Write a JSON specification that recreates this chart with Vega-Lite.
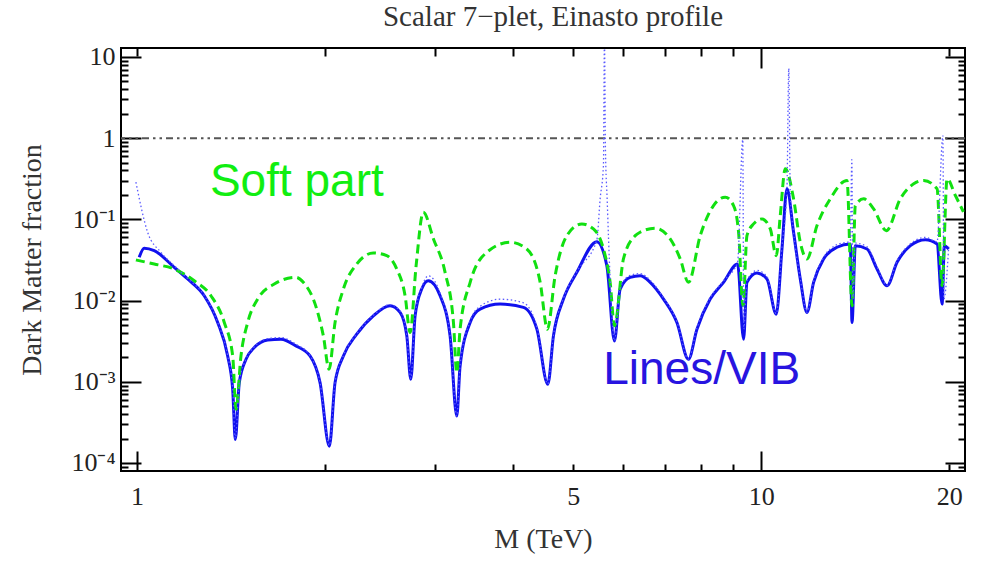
{
  "$schema": "https://vega.github.io/schema/vega-lite/v6.json",
  "width": 844,
  "height": 423,
  "autosize": {"type": "none"},
  "padding": {"left": 121, "top": 48, "right": 17, "bottom": 90},
  "background": "white",
  "config": {
    "view": {"stroke": "black", "strokeWidth": 2},
    "axis": {
      "domain": false,
      "grid": false,
      "tickColor": "black",
      "tickWidth": 2,
      "labelFont": "Liberation Serif",
      "labelFontSize": 26,
      "labelColor": "#222222",
      "labelFlush": false,
      "labelOverlap": false,
      "titleFont": "Liberation Serif",
      "titleFontSize": 28,
      "titleFontWeight": "normal",
      "titleColor": "#333333"
    }
  },
  "title": {
    "text": "Scalar 7−plet, Einasto profile",
    "font": "Liberation Serif",
    "fontSize": 29,
    "fontWeight": "normal",
    "color": "#333333",
    "anchor": "middle",
    "frame": "group",
    "offset": 20,
    "baseline": "alphabetic",
    "dx": 10,
    "dy": 31
  },
  "datasets": {
    "soft": [
      {"M": 0.9963, "f": 0.03162}, {"M": 1.0659, "f": 0.02822}, {"M": 1.1475, "f": 0.02448}, {"M": 1.2355, "f": 0.01755},
      {"M": 1.314, "f": 0.01146}, {"M": 1.3802, "f": 0.00538}, {"M": 1.4237, "f": 0.00208}, {"M": 1.4411, "f": 0.000458},
      {"M": 1.4678, "f": 0.00208}, {"M": 1.5047, "f": 0.00538}, {"M": 1.561, "f": 0.01044}, {"M": 1.6596, "f": 0.01598},
      {"M": 1.7976, "f": 0.01934}, {"M": 1.8472, "f": 0.01678}, {"M": 1.941, "f": 0.007855}, {"M": 1.9889, "f": 0.003675},
      {"M": 2.0311, "f": 0.001427}, {"M": 2.0766, "f": 0.00538}, {"M": 2.1413, "f": 0.01387}, {"M": 2.2495, "f": 0.02822},
      {"M": 2.3917, "f": 0.03857}, {"M": 2.5128, "f": 0.03572}, {"M": 2.6077, "f": 0.02448}, {"M": 2.6888, "f": 0.01146},
      {"M": 2.7388, "f": 0.004049}, {"M": 2.8002, "f": 0.02689}, {"M": 2.8754, "f": 0.1227}, {"M": 2.9851, "f": 0.05745},
      {"M": 3.1159, "f": 0.02229}, {"M": 3.2134, "f": 0.00538}, {"M": 3.2535, "f": 0.001299}, {"M": 3.2933, "f": 0.004448},
      {"M": 3.4178, "f": 0.01678}, {"M": 3.6341, "f": 0.03936}, {"M": 3.9606, "f": 0.0523}, {"M": 4.2114, "f": 0.04322},
      {"M": 4.4248, "f": 0.01678}, {"M": 4.5447, "f": 0.004448}, {"M": 4.6758, "f": 0.02024}, {"M": 4.8835, "f": 0.0631},
      {"M": 5.1601, "f": 0.088}, {"M": 5.3853, "f": 0.0763}, {"M": 5.5877, "f": 0.04322}, {"M": 5.7275, "f": 0.01678},
      {"M": 5.819, "f": 0.004886}, {"M": 6.0156, "f": 0.03253}, {"M": 6.2832, "f": 0.0631}, {"M": 6.3985, "f": 0.0695},
      {"M": 6.7626, "f": 0.0779}, {"M": 7.1475, "f": 0.05745}, {"M": 7.4176, "f": 0.03253}, {"M": 7.645, "f": 0.01678},
      {"M": 7.9853, "f": 0.0631}, {"M": 8.3853, "f": 0.148}, {"M": 8.7557, "f": 0.188}, {"M": 9.0283, "f": 0.148},
      {"M": 9.197, "f": 0.0695}, {"M": 9.3477, "f": 0.00863}, {"M": 9.4867, "f": 0.0631}, {"M": 9.7199, "f": 0.088},
      {"M": 10.026, "f": 0.1014}, {"M": 10.338, "f": 0.0763}, {"M": 10.569, "f": 0.03572}, {"M": 10.726, "f": 0.1114},
      {"M": 10.926, "f": 0.4204}, {"M": 11.266, "f": 0.1791}, {"M": 11.548, "f": 0.0523}, {"M": 11.837, "f": 0.03253},
      {"M": 12.282, "f": 0.0839}, {"M": 12.899, "f": 0.1791}, {"M": 13.72, "f": 0.3013}, {"M": 13.976, "f": 0.00863},
      {"M": 14.147, "f": 0.148}, {"M": 14.587, "f": 0.1791}, {"M": 15.135, "f": 0.1348}, {"M": 15.862, "f": 0.0727},
      {"M": 16.703, "f": 0.1791}, {"M": 17.545, "f": 0.2744}, {"M": 18.204, "f": 0.3013}, {"M": 19.126, "f": 0.2378},
      {"M": 19.482, "f": 0.01523}, {"M": 19.845, "f": 0.3162}, {"M": 20.463, "f": 0.1967}, {"M": 21.077, "f": 0.1238}
    ],
    "lines": [
      {"M": 1.0085, "f": 0.03414}, {"M": 1.0273, "f": 0.0441}, {"M": 1.0659, "f": 0.0412}, {"M": 1.1475, "f": 0.0257},
      {"M": 1.2058, "f": 0.01843}, {"M": 1.2818, "f": 0.01146}, {"M": 1.347, "f": 0.00538}, {"M": 1.3976, "f": 0.00208},
      {"M": 1.4237, "f": 0.000808}, {"M": 1.4374, "f": 0.000195}, {"M": 1.4588, "f": 0.000977}, {"M": 1.4953, "f": 0.001896},
      {"M": 1.5416, "f": 0.002644}, {"M": 1.62, "f": 0.003281}, {"M": 1.7012, "f": 0.003347}, {"M": 1.7976, "f": 0.002767},
      {"M": 1.8935, "f": 0.00208}, {"M": 1.9648, "f": 0.000977}, {"M": 2.0334, "f": 0.0001612}, {"M": 2.0766, "f": 0.000977},
      {"M": 2.1413, "f": 0.00208}, {"M": 2.2495, "f": 0.003857}, {"M": 2.3917, "f": 0.00649}, {"M": 2.5437, "f": 0.00863},
      {"M": 2.6396, "f": 0.00715}, {"M": 2.7057, "f": 0.003675}, {"M": 2.7458, "f": 0.001074}, {"M": 2.7898, "f": 0.00649},
      {"M": 2.8586, "f": 0.01387}, {"M": 2.9291, "f": 0.01755}, {"M": 3.0593, "f": 0.01146}, {"M": 3.174, "f": 0.003675},
      {"M": 3.2535, "f": 0.0003782}, {"M": 3.2933, "f": 0.001567}, {"M": 3.4178, "f": 0.00538}, {"M": 3.5453, "f": 0.007855},
      {"M": 3.8172, "f": 0.00905}, {"M": 4.159, "f": 0.00824}, {"M": 4.3712, "f": 0.004448}, {"M": 4.5514, "f": 0.000931},
      {"M": 4.6466, "f": 0.003675}, {"M": 4.8212, "f": 0.010435}, {"M": 5.0658, "f": 0.02229}, {"M": 5.4534, "f": 0.0532},
      {"M": 5.6582, "f": 0.02689}, {"M": 5.819, "f": 0.003189}, {"M": 5.9428, "f": 0.01387}, {"M": 6.166, "f": 0.01934},
      {"M": 6.3985, "f": 0.02024}, {"M": 6.6391, "f": 0.01678}, {"M": 6.9737, "f": 0.010435}, {"M": 7.3265, "f": 0.00538},
      {"M": 7.645, "f": 0.001896}, {"M": 7.8884, "f": 0.004448}, {"M": 8.2838, "f": 0.010435}, {"M": 8.7008, "f": 0.01678},
      {"M": 9.1632, "f": 0.02822}, {"M": 9.3684, "f": 0.003347}, {"M": 9.4867, "f": 0.01678}, {"M": 9.8426, "f": 0.02185},
      {"M": 10.212, "f": 0.01843}, {"M": 10.569, "f": 0.00681}, {"M": 10.794, "f": 0.04322}, {"M": 10.995, "f": 0.2378},
      {"M": 11.266, "f": 0.0695}, {"M": 11.548, "f": 0.01843}, {"M": 11.837, "f": 0.00715}, {"M": 12.129, "f": 0.01678},
      {"M": 12.585, "f": 0.03253}, {"M": 13.223, "f": 0.04538}, {"M": 13.888, "f": 0.04982}, {"M": 13.976, "f": 0.00538},
      {"M": 14.147, "f": 0.04747}, {"M": 14.771, "f": 0.04322}, {"M": 15.326, "f": 0.02448}, {"M": 15.903, "f": 0.01523},
      {"M": 16.501, "f": 0.02962}, {"M": 17.333, "f": 0.04747}, {"M": 18.319, "f": 0.0563}, {"M": 19.126, "f": 0.04982},
      {"M": 19.482, "f": 0.00905}, {"M": 19.648, "f": 0.04747}, {"M": 19.962, "f": 0.04322}
    ],
    "total": [
      {"M": 0.9963, "f": 0.2879}, {"M": 1.0403, "f": 0.0695}, {"M": 1.0926, "f": 0.03936}, {"M": 1.1548, "f": 0.0257},
      {"M": 1.2058, "f": 0.0187}, {"M": 1.2818, "f": 0.0116}, {"M": 1.347, "f": 0.0054}, {"M": 1.3976, "f": 0.0021},
      {"M": 1.4237, "f": 0.00082}, {"M": 1.4374, "f": 0.0002}, {"M": 1.4588, "f": 0.00098}, {"M": 1.4953, "f": 0.0019},
      {"M": 1.5416, "f": 0.0027}, {"M": 1.62, "f": 0.0034}, {"M": 1.7012, "f": 0.0035}, {"M": 1.7976, "f": 0.0029},
      {"M": 1.8935, "f": 0.0021}, {"M": 1.9648, "f": 0.00098}, {"M": 2.0334, "f": 0.000165}, {"M": 2.0766, "f": 0.00098},
      {"M": 2.1413, "f": 0.0021}, {"M": 2.2495, "f": 0.0039}, {"M": 2.3917, "f": 0.0066}, {"M": 2.5437, "f": 0.0089},
      {"M": 2.6396, "f": 0.0074}, {"M": 2.7057, "f": 0.0037}, {"M": 2.7458, "f": 0.0011}, {"M": 2.7898, "f": 0.0066},
      {"M": 2.8586, "f": 0.0145}, {"M": 2.9291, "f": 0.0202}, {"M": 3.0593, "f": 0.0122}, {"M": 3.174, "f": 0.0037},
      {"M": 3.2535, "f": 0.00038}, {"M": 3.2933, "f": 0.0016}, {"M": 3.4178, "f": 0.0056}, {"M": 3.5453, "f": 0.0085},
      {"M": 3.8172, "f": 0.0104}, {"M": 4.159, "f": 0.0094}, {"M": 4.3712, "f": 0.0047}, {"M": 4.5514, "f": 0.00094},
      {"M": 4.6466, "f": 0.0037}, {"M": 4.8212, "f": 0.0106}, {"M": 5.0658, "f": 0.0228}, {"M": 5.4534, "f": 0.056},
      {"M": 5.5201, "f": 0.1791}, {"M": 5.5877, "f": 0.4615}, {"M": 5.6083, "f": 16.9}, {"M": 5.629, "f": 0.742},
      {"M": 5.6646, "f": 0.1791}, {"M": 5.7275, "f": 0.01843}, {"M": 5.819, "f": 0.0032}, {"M": 5.9428, "f": 0.0142},
      {"M": 6.166, "f": 0.0205}, {"M": 6.3985, "f": 0.0215}, {"M": 6.6391, "f": 0.0178}, {"M": 6.9737, "f": 0.0108},
      {"M": 7.3265, "f": 0.0055}, {"M": 7.645, "f": 0.0019}, {"M": 7.8884, "f": 0.0046}, {"M": 8.2838, "f": 0.0108},
      {"M": 8.7008, "f": 0.0175}, {"M": 9.1632, "f": 0.0295}, {"M": 9.341, "f": 0.958}, {"M": 9.375, "f": 0.004448},
      {"M": 9.4867, "f": 0.0175}, {"M": 9.8426, "f": 0.0235}, {"M": 10.212, "f": 0.0197}, {"M": 10.569, "f": 0.0069},
      {"M": 10.794, "f": 0.046}, {"M": 10.995, "f": 0.25}, {"M": 11.068, "f": 7.21}, {"M": 11.129, "f": 0.2064},
      {"M": 11.266, "f": 0.0695}, {"M": 11.548, "f": 0.0188}, {"M": 11.837, "f": 0.0072}, {"M": 12.129, "f": 0.0172},
      {"M": 12.585, "f": 0.034}, {"M": 13.223, "f": 0.049}, {"M": 13.888, "f": 0.054}, {"M": 13.966, "f": 0.5428},
      {"M": 14.018, "f": 0.010435}, {"M": 14.147, "f": 0.051}, {"M": 14.771, "f": 0.046}, {"M": 15.326, "f": 0.026},
      {"M": 15.903, "f": 0.0155}, {"M": 16.501, "f": 0.031}, {"M": 17.333, "f": 0.05}, {"M": 18.319, "f": 0.06},
      {"M": 19.126, "f": 0.053}, {"M": 19.54, "f": 1.074}, {"M": 19.612, "f": 0.010435}, {"M": 19.962, "f": 0.046}
    ],
    "labels": [
      {"label": "Soft part", "M": 1.309, "f": 0.195},
      {"label": "Lines/VIB", "M": 5.583, "f": 0.000931}
    ],
    "unity": [{"f": 1}]
  },
  "layer": [
    {
      "data": {"name": "unity"},
      "mark": {"type": "rule", "color": "#555555", "strokeWidth": 2, "strokeDash": [7, 4, 2.5, 4, 2.5, 4]},
      "encoding": {
        "y": {
          "field": "f", "type": "quantitative",
          "scale": {"type": "log", "domain": [0.0000797, 12.9], "nice": false},
          "axis": {
            "orient": "left", "values": [0.0001, 0.001, 0.01, 0.1, 1, 10],
            "tickSize": 20, "offset": -20, "labelPadding": 6,
            "labelExpr": "datum.value > 5 ? '10' : datum.value > 0.5 ? '1' : datum.value > 0.05 ? '10⁻¹' : datum.value > 0.005 ? '10⁻²' : datum.value > 0.0005 ? '10⁻³' : '10⁻⁴'",
            "title": "Dark Matter fraction", "titlePadding": 24
          }
        }
      }
    },
    {
      "data": {"name": "lines"},
      "mark": {"type": "line", "color": "#1010ee", "strokeWidth": 3, "clip": true, "interpolate": "monotone"},
      "encoding": {
        "x": {
          "field": "M", "type": "quantitative",
          "scale": {"type": "log", "domain": [0.943, 21.2], "nice": false},
          "axis": {
            "orient": "bottom", "values": [1, 10], "tickSize": 20, "offset": -20, "labelPadding": 12,
            "labelExpr": "datum.value < 5 ? '1' : '10'",
            "title": "M (TeV)", "titlePadding": 16
          }
        },
        "y": {
          "field": "f", "type": "quantitative",
          "scale": {"type": "log", "domain": [0.0000797, 12.9], "nice": false},
          "axis": {
            "orient": "left",
            "values": [0.00009, 0.0002, 0.0003, 0.0004, 0.0005, 0.0006, 0.0007, 0.0008, 0.0009, 0.002, 0.003, 0.004, 0.005, 0.006, 0.007, 0.008, 0.009, 0.02, 0.03, 0.04, 0.05, 0.06, 0.07, 0.08, 0.09, 0.2, 0.3, 0.4, 0.5, 0.6, 0.7, 0.8, 0.9, 2, 3, 4, 5, 6, 7, 8, 9],
            "tickSize": 7, "offset": -7, "labels": false, "title": null
          }
        }
      }
    },
    {
      "data": {"name": "soft"},
      "mark": {"type": "line", "color": "#11e011", "strokeWidth": 3, "strokeDash": [9, 5], "clip": true, "interpolate": "monotone"},
      "encoding": {
        "x": {
          "field": "M", "type": "quantitative",
          "scale": {"type": "log", "domain": [0.943, 21.2], "nice": false},
          "axis": {
            "orient": "bottom", "values": [2, 3, 4, 5, 6, 7, 8, 9, 20], "tickSize": 7, "offset": -7, "labelPadding": 12,
            "labelExpr": "datum.value == 5 ? '5' : datum.value == 20 ? '20' : ''",
            "title": null
          }
        },
        "y": {
          "field": "f", "type": "quantitative",
          "scale": {"type": "log", "domain": [0.0000797, 12.9], "nice": false},
          "axis": {
            "orient": "right", "values": [0.0001, 0.001, 0.01, 0.1, 1, 10],
            "tickSize": 20, "offset": -20, "labels": false, "title": null
          }
        }
      }
    },
    {
      "data": {"name": "total"},
      "mark": {"type": "line", "color": "#5a5aff", "strokeWidth": 1.3, "strokeDash": [1.5, 2.5], "clip": true, "interpolate": "monotone"},
      "encoding": {
        "x": {
          "field": "M", "type": "quantitative",
          "scale": {"type": "log", "domain": [0.943, 21.2], "nice": false},
          "axis": {"orient": "top", "values": [10], "tickSize": 20, "offset": -20, "labels": false, "title": null}
        },
        "y": {
          "field": "f", "type": "quantitative",
          "scale": {"type": "log", "domain": [0.0000797, 12.9], "nice": false},
          "axis": {
            "orient": "right",
            "values": [0.00009, 0.0002, 0.0003, 0.0004, 0.0005, 0.0006, 0.0007, 0.0008, 0.0009, 0.002, 0.003, 0.004, 0.005, 0.006, 0.007, 0.008, 0.009, 0.02, 0.03, 0.04, 0.05, 0.06, 0.07, 0.08, 0.09, 0.2, 0.3, 0.4, 0.5, 0.6, 0.7, 0.8, 0.9, 2, 3, 4, 5, 6, 7, 8, 9],
            "tickSize": 7, "offset": -7, "labels": false, "title": null
          }
        }
      }
    },
    {
      "data": {"name": "labels"},
      "mark": {"type": "text", "font": "Liberation Sans", "fontSize": 46, "align": "left", "baseline": "alphabetic"},
      "encoding": {
        "x": {
          "field": "M", "type": "quantitative",
          "scale": {"type": "log", "domain": [0.943, 21.2], "nice": false},
          "axis": {"orient": "top", "values": [1, 2, 3, 4, 5, 6, 7, 8, 9, 20], "tickSize": 8, "offset": -8, "labels": false, "title": null}
        },
        "y": {
          "field": "f", "type": "quantitative",
          "scale": {"type": "log", "domain": [0.0000797, 12.9], "nice": false},
          "axis": null
        },
        "text": {"field": "label", "type": "nominal"},
        "color": {
          "field": "label", "type": "nominal",
          "scale": {"domain": ["Soft part", "Lines/VIB"], "range": ["#11ee11", "#2814e0"]},
          "legend": null
        }
      }
    }
  ],
  "resolve": {"axis": {"x": "independent", "y": "independent"}}
}
